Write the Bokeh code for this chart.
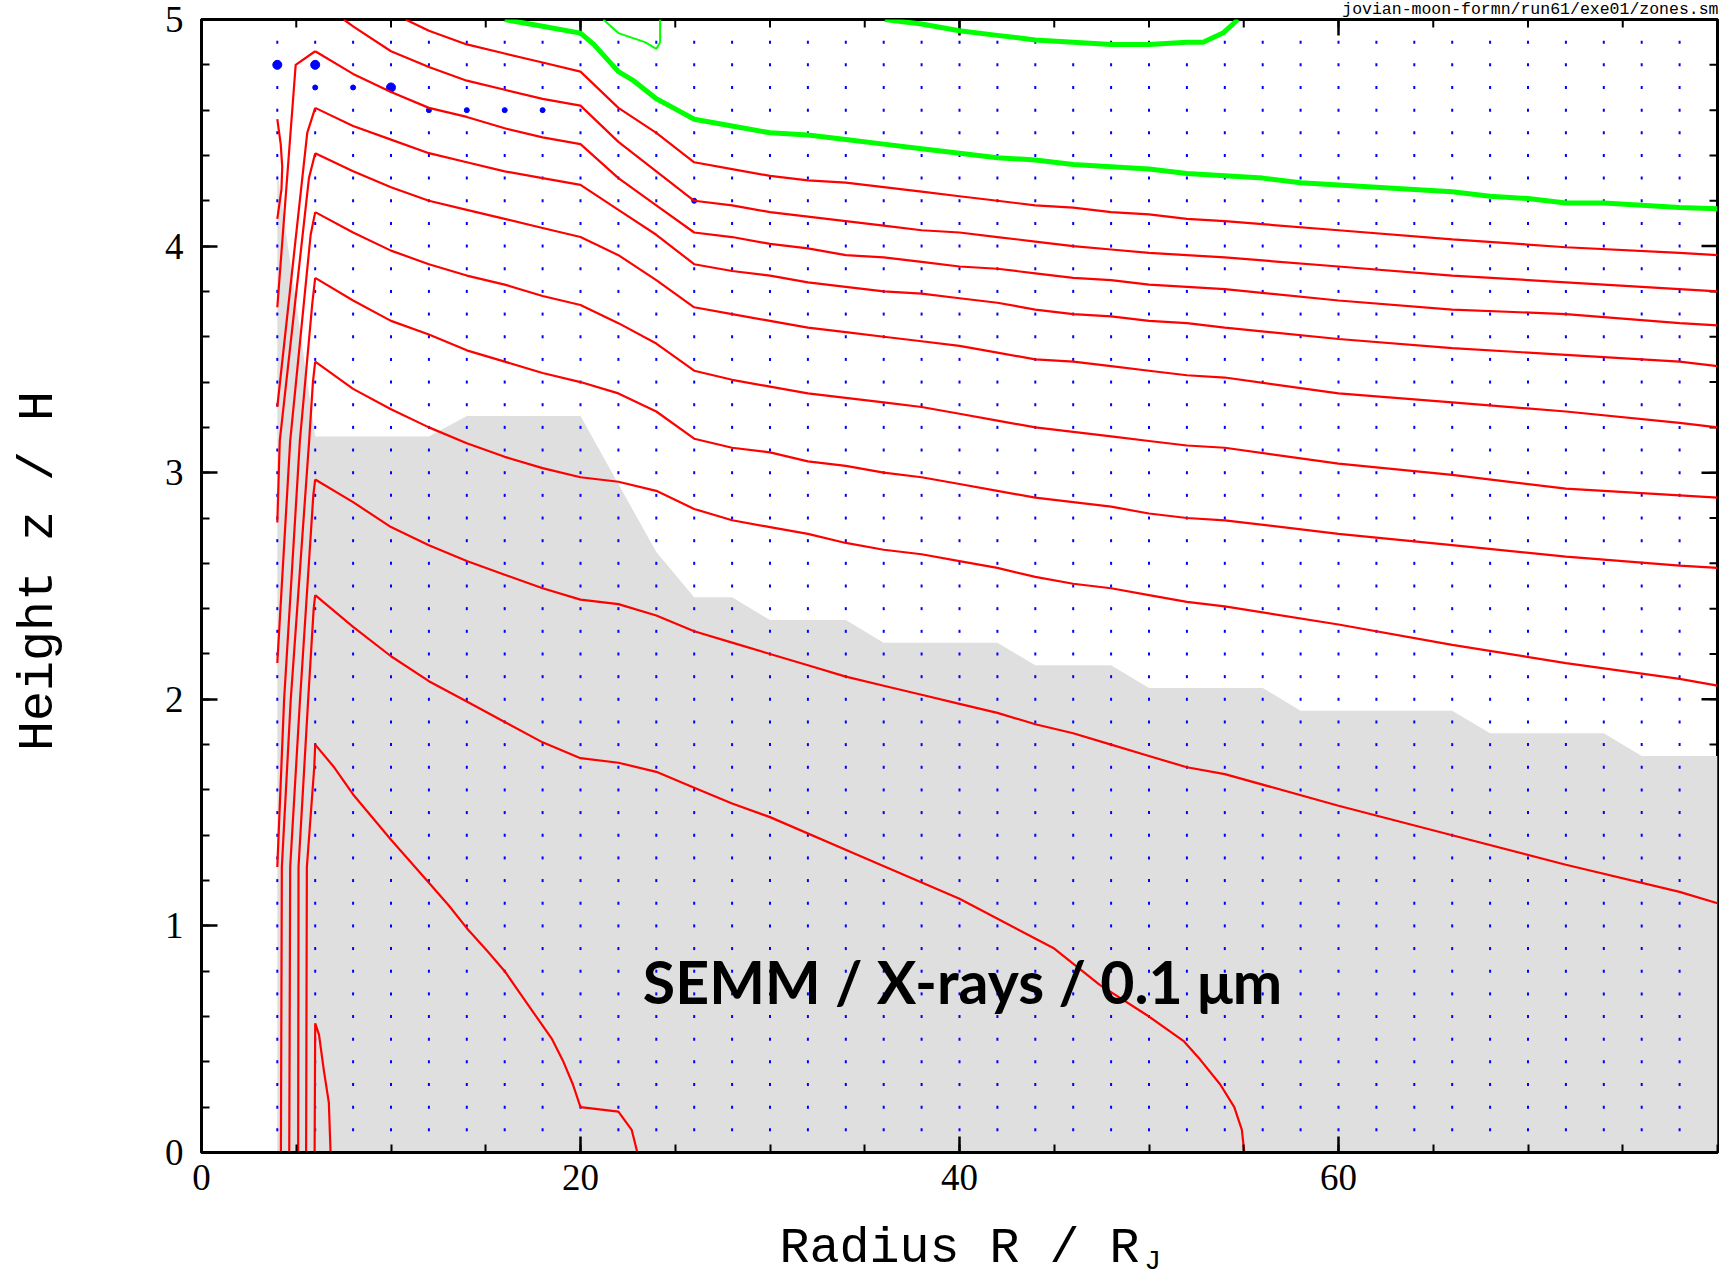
from bokeh.plotting import figure
from bokeh.models import Range1d, LinearAxis, FixedTicker, Label
from bokeh.embed import file_html
from bokeh.resources import INLINE
import numpy as np

# ---------------- data ----------------
# grid of model zones
grid_r = np.arange(4, 79, 2)
grid_z = np.round(np.arange(0.1, 4.95, 0.1), 2)

# highlighted zones
big_r = [4, 6, 10]
big_z = [4.8, 4.8, 4.7]
mid_r = [6, 8, 12, 14, 16, 18, 26]
mid_z = [4.7, 4.7, 4.6, 4.6, 4.6, 4.6, 4.2]

# grey region (upper boundary)
gray_r = [4, 6, 12, 14, 20, 24, 26, 28, 30, 34, 36, 42, 44, 48, 50, 56, 58, 66, 68, 74, 76, 80]
gray_z = [4.33, 3.16, 3.16, 3.25, 3.25, 2.65, 2.45, 2.45, 2.35, 2.35, 2.25, 2.25, 2.15, 2.15,
          2.05, 2.05, 1.95, 1.95, 1.85, 1.85, 1.75, 1.75]

R_tail = [54, 60, 66, 72, 78, 80]

t2_r = [10.77, 12, 14, 16, 18, 20, 22, 24, 26, 28, 30, 32, 34, 36, 38, 40, 42, 44, 46, 48, 50, 52] + R_tail
t2_z = [5.0, 4.95, 4.89, 4.85, 4.81, 4.77, 4.61, 4.50, 4.37, 4.34, 4.31, 4.29, 4.28, 4.26, 4.24,
        4.22, 4.20, 4.18, 4.17, 4.15, 4.14, 4.12, 4.11, 4.07, 4.03, 3.995, 3.97, 3.96]

t1_r = [7.51, 8, 10, 12, 14, 16, 18, 20, 22, 24, 26, 28, 30, 32, 34, 36, 38, 40, 42, 44, 46, 48, 50, 52] + R_tail
t1_z = [5.0, 4.97, 4.86, 4.79, 4.73, 4.69, 4.65, 4.62, 4.46, 4.33, 4.20, 4.18, 4.15, 4.13, 4.11,
        4.09, 4.07, 4.06, 4.04, 4.02, 4.0, 3.985, 3.97, 3.96, 3.95, 3.91, 3.87, 3.84, 3.81, 3.80]

main_r = [6, 8, 10, 12, 14, 16, 18, 20, 22, 24, 26, 28, 30, 32, 34, 36, 38, 40, 42, 44, 46, 48, 50, 52] + R_tail
p1_z = [4.86, 4.76, 4.68, 4.61, 4.57, 4.52, 4.48, 4.45, 4.30, 4.18, 4.06, 4.04, 4.01, 3.99, 3.96,
        3.95, 3.93, 3.91, 3.90, 3.88, 3.86, 3.85, 3.83, 3.82, 3.81, 3.76, 3.72, 3.70, 3.66, 3.65]
p2_z = [4.61, 4.53, 4.47, 4.41, 4.37, 4.33, 4.30, 4.27, 4.16, 4.05, 3.92, 3.89, 3.87, 3.84, 3.82,
        3.80, 3.79, 3.77, 3.75, 3.72, 3.70, 3.69, 3.67, 3.66, 3.64, 3.59, 3.55, 3.52, 3.49, 3.47]
p3_z = [4.41, 4.33, 4.26, 4.20, 4.16, 4.12, 4.08, 4.04, 3.96, 3.85, 3.73, 3.70, 3.67, 3.64, 3.62,
        3.60, 3.58, 3.56, 3.53, 3.50, 3.49, 3.47, 3.45, 3.43, 3.42, 3.35, 3.31, 3.27, 3.22, 3.20]
p4_z = [4.15, 4.06, 3.98, 3.92, 3.87, 3.83, 3.78, 3.74, 3.66, 3.57, 3.45, 3.41, 3.38, 3.35, 3.33,
        3.31, 3.29, 3.26, 3.23, 3.20, 3.18, 3.16, 3.14, 3.12, 3.11, 3.04, 2.99, 2.93, 2.90, 2.89]
p5_z = [3.86, 3.76, 3.67, 3.61, 3.54, 3.49, 3.44, 3.40, 3.35, 3.27, 3.15, 3.11, 3.09, 3.05, 3.03,
        3.00, 2.98, 2.95, 2.92, 2.89, 2.87, 2.85, 2.82, 2.80, 2.79, 2.73, 2.68, 2.63, 2.59, 2.58]
p6_z = [3.49, 3.37, 3.28, 3.20, 3.13, 3.07, 3.02, 2.98, 2.96, 2.92, 2.84, 2.79, 2.76, 2.73, 2.69,
        2.66, 2.64, 2.61, 2.58, 2.54, 2.51, 2.49, 2.46, 2.43, 2.41, 2.33, 2.24, 2.16, 2.09, 2.06]
p7_z = [2.97, 2.87, 2.76, 2.68, 2.61, 2.55, 2.49, 2.44, 2.42, 2.37, 2.30, 2.25, 2.20, 2.15, 2.10,
        2.06, 2.02, 1.98, 1.94, 1.89, 1.85, 1.80, 1.75, 1.70, 1.67, 1.53, 1.40, 1.27, 1.15, 1.10]

p8_r = [6, 8, 10, 12, 14, 16, 18, 20, 22, 24, 26, 28, 30, 35, 40, 45, 47.4, 50, 51.85, 52.7, 53.76, 54.5, 54.9, 55.03]
p8_z = [2.46, 2.32, 2.19, 2.08, 1.99, 1.90, 1.81, 1.74, 1.72, 1.68, 1.61, 1.54, 1.48, 1.30, 1.12, 0.90,
        0.74, 0.60, 0.49, 0.41, 0.30, 0.20, 0.10, 0.0]

p9_r = [6, 7, 8, 10, 10.85, 12, 13.05, 14, 15.07, 16, 16.83, 17.5, 18, 18.5, 19.1, 19.6, 20, 22, 22.7, 23]
p9_z = [1.80, 1.70, 1.58, 1.38, 1.30, 1.19, 1.09, 0.99, 0.89, 0.80, 0.70, 0.62, 0.56, 0.50, 0.40, 0.30,
        0.20, 0.18, 0.10, 0.0]

p10_r = [5.97, 6, 6.2, 6.46, 6.72, 6.81]
p10_z = [0.0, 0.57, 0.52, 0.36, 0.22, 0.0]

# steep contour segments between R = 4 and R = 6
l0_r, l0_z = [4, 4.18, 4.26, 4.22, 4], [4.56, 4.45, 4.35, 4.25, 4.12]
lp1_r, lp1_z = [6, 4.97, 4], [4.86, 4.8, 3.73]
lp2_r, lp2_z = [6, 5.58, 4], [4.61, 4.5, 3.29]
lp3_r, lp3_z = [6, 5.67, 4.13, 4], [4.41, 4.3, 3.14, 2.78]
lp4_r, lp4_z = [6, 5.76, 4.68, 4], [4.15, 4.05, 3.14, 2.16]
lp5_r, lp5_z = [6, 5.85, 5.19, 4.36, 4], [3.86, 3.75, 3.14, 2.0, 1.26]
lp6_r, lp6_z = [6, 5.88, 5.68, 4.71, 4.24, 4.19], [3.49, 3.4, 3.14, 2.0, 1.26, 0.0]
lp7_r, lp7_z = [6, 5.9, 5.2, 4.68, 4.63], [2.97, 2.9, 2.0, 1.26, 0.0]
lp8_r, lp8_z = [6, 5.92, 5.63, 5.12, 5.10], [2.46, 2.4, 2.0, 1.26, 0.0]
lp9_r, lp9_z = [6, 5.95, 5.56, 5.52], [1.80, 1.7, 1.26, 0.0]

g1_r = [16, 18, 20, 20.7, 22, 22.8, 24, 24.9, 26, 28, 30, 32, 34, 36, 38, 40, 42, 44, 46, 48, 50, 52,
        54, 56, 58, 60, 62, 64, 66, 68, 70, 72, 74, 76, 78, 80]
g1_z = [5.0, 4.97, 4.94, 4.89, 4.77, 4.73, 4.65, 4.61, 4.56, 4.53, 4.50, 4.49, 4.47, 4.45, 4.43, 4.41,
        4.39, 4.38, 4.36, 4.35, 4.34, 4.32, 4.31, 4.30, 4.28, 4.27, 4.26, 4.25, 4.24, 4.22, 4.21, 4.19,
        4.19, 4.18, 4.17, 4.165]
g2_r = [36.06, 38, 40, 42, 44, 46, 48, 50, 52, 52.85, 53.9, 54.7]
g2_z = [5.0, 4.98, 4.95, 4.93, 4.91, 4.90, 4.89, 4.89, 4.90, 4.90, 4.94, 5.0]
g3_r = [21.2, 22, 23.4, 24, 24.2, 24.2]
g3_z = [5.0, 4.94, 4.90, 4.87, 4.9, 5.0]

x_major = [0, 20, 40, 60]
x_minor = list(range(0, 81, 5))
y_major = [0, 1, 2, 3, 4, 5]
y_minor = [round(0.2 * i, 1) for i in range(26)]

NBSP = "\u00a0"
x_label = "Radius R / R"
x_label_sub = NBSP * 23 + "J"
y_label = NBSP + "Height z / H"
file_note = "jovian-moon-formn/run61/exe01/zones.sm"
panel_text = "SEMM / X-rays / 0.1 \u03bcm"

# ---------------- figure ----------------
W, H = 1729, 1283
FL, FB = 201, 1152          # frame left / bottom in canvas pixels
p = figure(width=W, height=H, x_range=Range1d(0, 80), y_range=Range1d(0, 5),
           output_backend="svg", toolbar_location=None,
           min_border_left=FL, min_border_right=12, min_border_top=19, min_border_bottom=H - FB,
           x_axis_location=None, y_axis_location=None)
p.grid.visible = False
p.outline_line_color = "black"
p.outline_line_width = 3
p.background_fill_color = "white"
p.border_fill_color = "white"

p.title.text = file_note
p.title.align = "right"
p.title.vertical_align = "top"
p.title.text_font = "Liberation Mono"
p.title.text_font_size = "16.5px"
p.title.text_font_style = "normal"
p.title.text_color = "black"
p.title.standoff = -2
p.title.offset = -1


def make_axis(kind, ticks, minor):
    ax = LinearAxis(ticker=FixedTicker(ticks=ticks, minor_ticks=minor))
    ax.axis_line_width = 3
    ax.axis_line_color = "black"
    ax.major_tick_in = 16
    ax.major_tick_out = 0
    ax.minor_tick_in = 8
    ax.minor_tick_out = 0
    ax.major_tick_line_width = 2.5
    ax.minor_tick_line_width = 2
    ax.major_tick_line_color = "black"
    ax.minor_tick_line_color = "black"
    ax.major_label_text_font = "Liberation Serif"
    ax.major_label_text_font_size = "37px"
    ax.major_label_text_color = "black"
    ax.major_label_standoff = 18 if kind == "y" else 12
    ax.axis_label_text_font = "Liberation Mono"
    ax.axis_label_text_font_size = "50px"
    ax.axis_label_text_font_style = "normal"
    ax.axis_label_text_color = "black"
    return ax


xax = make_axis("x", x_major, x_minor)
xax.axis_label = x_label
xax.axis_label_standoff = 27
p.add_layout(xax, "below")

# subscript "J" of the x label, carried by a bare axis placed under the first one
sub = LinearAxis(ticker=FixedTicker(ticks=[], minor_ticks=[]))
sub.axis_line_color = None
sub.major_tick_line_color = None
sub.minor_tick_line_color = None
sub.major_label_standoff = 0
sub.major_label_text_font_size = "1px"
sub.axis_label = x_label_sub
sub.axis_label_text_font = "Liberation Mono"
sub.axis_label_text_font_size = "28px"
sub.axis_label_text_font_style = "normal"
sub.axis_label_text_color = "black"
sub.axis_label_standoff = -34
p.add_layout(sub, "below")

yax = make_axis("y", y_major, y_minor)
yax.axis_label = y_label
yax.axis_label_standoff = 95
p.add_layout(yax, "left")

# mirrored ticks on the top and right edges
p.ray(x=x_major, y=[5] * len(x_major), length=16, length_units="screen", angle=-np.pi / 2,
      line_color="black", line_width=2.5)
p.ray(x=x_minor, y=[5] * len(x_minor), length=8, length_units="screen", angle=-np.pi / 2,
      line_color="black", line_width=2)
p.ray(x=[80] * len(y_major), y=y_major, length=16, length_units="screen", angle=np.pi,
      line_color="black", line_width=2.5)
p.ray(x=[80] * len(y_minor), y=y_minor, length=8, length_units="screen", angle=np.pi,
      line_color="black", line_width=2)

# grey region
p.varea(x=gray_r, y1=[0] * len(gray_r), y2=gray_z, fill_color="#dfdfdf", fill_alpha=1.0)

# zone grid
gx, gy = np.meshgrid(grid_r, grid_z)
p.rect(x=gx.ravel(), y=gy.ravel(), width=2, height=3, width_units="screen", height_units="screen",
       fill_color="blue", line_color=None)
p.scatter(big_r, big_z, size=9, color="blue")
p.scatter(mid_r, mid_z, size=5, color="blue")

RED = "#ff0000"
LW = 2.2
for zz in [p1_z, p2_z, p3_z, p4_z, p5_z, p6_z, p7_z]:
    p.line(main_r, zz, line_color=RED, line_width=LW)
for rr, zz in [(t1_r, t1_z), (t2_r, t2_z), (p8_r, p8_z), (p9_r, p9_z), (p10_r, p10_z),
               (l0_r, l0_z), (lp1_r, lp1_z), (lp2_r, lp2_z), (lp3_r, lp3_z), (lp4_r, lp4_z),
               (lp5_r, lp5_z), (lp6_r, lp6_z), (lp7_r, lp7_z), (lp8_r, lp8_z), (lp9_r, lp9_z)]:
    p.line(rr, zz, line_color=RED, line_width=LW)

GREEN = "#00ff00"
p.line(g1_r, g1_z, line_color=GREEN, line_width=5)
p.line(g2_r, g2_z, line_color=GREEN, line_width=5)
p.line(g3_r, g3_z, line_color=GREEN, line_width=2)

# panel text inside the frame (screen units are relative to the frame)
p.add_layout(Label(x=962 - FL, y=FB - 981, x_units="screen", y_units="screen", text=panel_text,
                   text_font="Lato", text_font_style="bold", text_font_size="59px",
                   text_align="center", text_baseline="alphabetic", text_color="black"))

open("out.html", "w").write(file_html(p, INLINE))
